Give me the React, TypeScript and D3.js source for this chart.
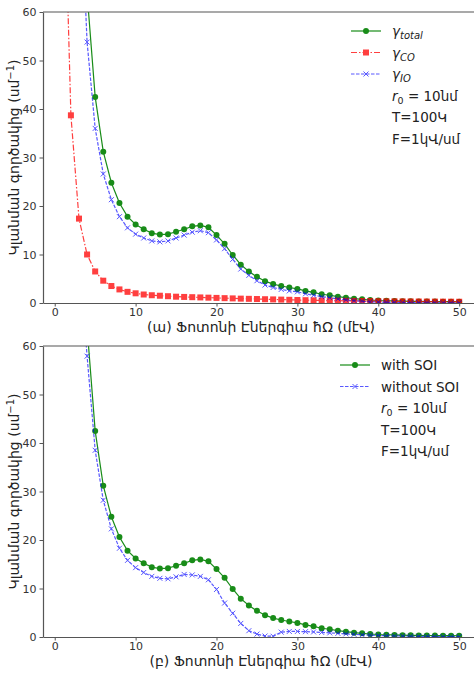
import React, { useEffect, useRef } from 'react';
import * as d3 from 'd3';

// photon energy (meV), 1..50
const energy = d3.range(1, 51);

// top panel
const gammaTotal = [399, 199, 109, 63.8, 42.5, 31.2, 24.8, 20.6, 17.8, 16.2, 15.2, 14.4, 14.1, 14.2, 14.7, 15.2, 15.8, 16.0, 15.6, 14.0,
  12.2, 9.9, 7.9, 6.5, 5.4, 4.5, 3.9, 3.5, 3.2, 2.9, 2.5, 2.2, 1.8, 1.6, 1.3, 1.1, 0.9, 0.75, 0.62, 0.52,
  0.46, 0.42, 0.38, 0.35, 0.33, 0.31, 0.29, 0.28, 0.27, 0.26];
const gammaCO = [99, 38.7, 17.4, 10.0, 6.5, 4.6, 3.5, 2.8, 2.3, 2.0, 1.75, 1.6, 1.5, 1.4, 1.3, 1.25, 1.2, 1.15, 1.1, 1.05,
  1.0, 0.95, 0.9, 0.86, 0.82, 0.78, 0.74, 0.7, 0.66, 0.62, 0.58, 0.55, 0.52, 0.5, 0.47, 0.45, 0.43, 0.41, 0.39, 0.37,
  0.35, 0.34, 0.33, 0.32, 0.31, 0.3, 0.29, 0.28, 0.27, 0.26];
const gammaIO = [300, 160, 92, 53.8, 36.0, 26.6, 21.3, 17.8, 15.5, 14.2, 13.4, 12.8, 12.6, 12.8, 13.4, 14.0, 14.6, 14.9, 14.5, 13.0,
  11.2, 9.0, 7.0, 5.7, 4.6, 3.7, 3.2, 2.8, 2.5, 2.3, 1.9, 1.6, 1.3, 1.1, 0.85, 0.65, 0.5, 0.35, 0.25, 0.18,
  0.14, 0.11, 0.09, 0.07, 0.06, 0.05, 0.04, 0.03, 0.03, 0.02];

// bottom panel
const withSOI = gammaTotal;
const withoutSOI = [250, 130, 80, 57.9, 38.5, 28.2, 22.3, 18.3, 15.8, 14.3, 13.3, 12.5, 12.1, 12.0, 12.4, 12.9, 12.8, 12.5, 11.8, 9.8,
  7.0, 4.9, 2.8, 1.3, 0.6, 0.2, 0.15, 1.0, 1.15, 1.15, 1.1, 1.05, 0.95, 0.85, 0.75, 0.65, 0.55, 0.45, 0.38, 0.32,
  0.27, 0.23, 0.2, 0.17, 0.14, 0.12, 0.1, 0.08, 0.07, 0.06];

const xTicks = [0, 10, 20, 30, 40, 50];
const yTicks = [0, 10, 20, 30, 40, 50, 60];
const paramLines = ['r0', 'T=100Կ', 'F=1կՎ/սմ'];

const FONT = 'DejaVu Sans, sans-serif';
const GREEN = '#008000';
const RED = '#ff0000';
const BLUE = '#0000ff';

type Series = { values: number[]; color: string; dash: string; marker: 'circle' | 'square' | 'x'; opacity: number; label: string[] };

const App = () => {
  const ref = useRef<SVGSVGElement>(null);

  useEffect(() => {
    const svg = d3.select(ref.current);
    svg.selectAll('*').remove();

    const left = 43;
    const right = 479;
    const x = d3.scaleLinear().domain([-1.45, 52.45]).range([left, right]);

    const drawPanel = (top: number, bottom: number, series: Series[], xlabel: string, legendX: number, legendY: number, id: string) => {
      const y = d3.scaleLinear().domain([0, 60]).range([bottom, top]);
      const g = svg.append('g');

      g.append('clipPath').attr('id', id)
        .append('rect').attr('x', left).attr('y', top).attr('width', right - left).attr('height', bottom - top);

      const plot = g.append('g').attr('clip-path', `url(#${id})`);
      const line = d3.line<number>().x((_, i) => x(energy[i])).y(d => y(d));

      const drawMarker = (sel: any, s: Series, cx: number, cy: number) => {
        if (s.marker === 'circle') {
          sel.append('circle').attr('cx', cx).attr('cy', cy).attr('r', 3).attr('fill', s.color);
        } else if (s.marker === 'square') {
          sel.append('rect').attr('x', cx - 3).attr('y', cy - 3).attr('width', 6).attr('height', 6).attr('fill', s.color);
        } else {
          const h = 2.5;
          sel.append('path').attr('d', `M${cx - h},${cy - h}L${cx + h},${cy + h}M${cx - h},${cy + h}L${cx + h},${cy - h}`)
            .attr('stroke', s.color).attr('stroke-width', 1);
        }
      };

      series.forEach(s => {
        const sg = plot.append('g').attr('opacity', s.opacity);
        sg.append('path').attr('d', line(s.values)).attr('fill', 'none')
          .attr('stroke', s.color).attr('stroke-width', 1.2).attr('stroke-dasharray', s.dash);
        s.values.forEach((v, i) => drawMarker(sg, s, x(energy[i]), y(v)));
      });

      // axes
      const xa = g.append('g').attr('transform', `translate(0,${bottom})`)
        .call(d3.axisBottom(x).tickValues(xTicks).tickSize(3.5).tickSizeOuter(0).tickPadding(2));
      const ya = g.append('g').attr('transform', `translate(${left},0)`)
        .call(d3.axisLeft(y).tickValues(yTicks).tickSize(3.5).tickSizeOuter(0).tickPadding(3));
      [xa, ya].forEach(a => {
        a.select('.domain').attr('stroke', '#555').attr('stroke-width', 1.2);
        a.selectAll('.tick line').attr('stroke', '#555');
        a.selectAll('.tick text').attr('font-family', FONT).attr('font-size', 11).attr('fill', '#333');
      });
      g.append('line').attr('x1', left).attr('x2', right).attr('y1', top).attr('y2', top)
        .attr('stroke', '#555').attr('stroke-width', 1.2);

      // axis labels
      g.append('text').attr('x', (left + right) / 2).attr('y', bottom + 29).attr('text-anchor', 'middle')
        .attr('font-family', FONT).attr('font-size', 14).attr('fill', '#222').text(xlabel);
      const yl = g.append('text').attr('transform', `translate(19,${(top + bottom) / 2}) rotate(-90)`)
        .attr('text-anchor', 'middle').attr('font-family', FONT).attr('font-size', 14).attr('fill', '#222');
      yl.append('tspan').text('Կլանման գործակից (սմ');
      yl.append('tspan').attr('font-size', 10).attr('dy', -5).text('−1');
      yl.append('tspan').attr('dy', 5).text(')');

      // legend
      const rowH = 21.5;
      const lg = g.append('g');
      series.forEach((s, i) => {
        const cy = legendY + i * rowH;
        const hg = lg.append('g').attr('opacity', s.opacity);
        hg.append('line').attr('x1', legendX).attr('x2', legendX + 30).attr('y1', cy).attr('y2', cy)
          .attr('stroke', s.color).attr('stroke-width', 1.2).attr('stroke-dasharray', s.dash);
        drawMarker(hg, s, legendX + 15, cy);
        const t = lg.append('text').attr('x', legendX + 41).attr('y', cy + 5)
          .attr('font-family', FONT).attr('font-size', 13.5).attr('fill', '#222');
        if (s.label.length === 2) {
          t.append('tspan').attr('font-style', 'italic').text(s.label[0]);
          t.append('tspan').attr('font-style', 'italic').attr('font-size', 10).attr('dy', 3).text(s.label[1]);
        } else {
          t.text(s.label[0]);
        }
      });
      paramLines.forEach((p, j) => {
        const cy = legendY + (series.length + j) * rowH;
        const t = lg.append('text').attr('x', legendX + 41).attr('y', cy + 5)
          .attr('font-family', FONT).attr('font-size', 13.5).attr('fill', '#222');
        if (p === 'r0') {
          t.append('tspan').attr('font-style', 'italic').text('r');
          t.append('tspan').attr('font-size', 9.5).attr('dy', 3).text('0');
          t.append('tspan').attr('dy', -3).text(' = 10նմ');
        } else {
          t.text(p);
        }
      });
    };

    drawPanel(12, 303, [
      { values: gammaTotal, color: GREEN, dash: '', marker: 'circle', opacity: 0.9, label: ['γ', 'total'] },
      { values: gammaCO, color: RED, dash: '6,2,1.5,2', marker: 'square', opacity: 0.75, label: ['γ', 'CO'] },
      { values: gammaIO, color: BLUE, dash: '3.5,1.5', marker: 'x', opacity: 0.65, label: ['γ', 'IO'] },
    ], '(ա) Ֆոտոնի Էներգիա ħΩ (մէՎ)', 351, 31, 'clipTop');

    drawPanel(346, 637, [
      { values: withSOI, color: GREEN, dash: '', marker: 'circle', opacity: 0.9, label: ['with SOI'] },
      { values: withoutSOI, color: BLUE, dash: '3.5,1.5', marker: 'x', opacity: 0.65, label: ['without SOI'] },
    ], '(բ) Ֆոտոնի Էներգիա ħΩ (մէՎ)', 340, 365, 'clipBottom');
  }, []);

  return (
    <svg ref={ref} width={474} height={673}
      style={{ position: 'absolute', left: 0, top: 0, background: '#fff' }} />
  );
};

export default App;
